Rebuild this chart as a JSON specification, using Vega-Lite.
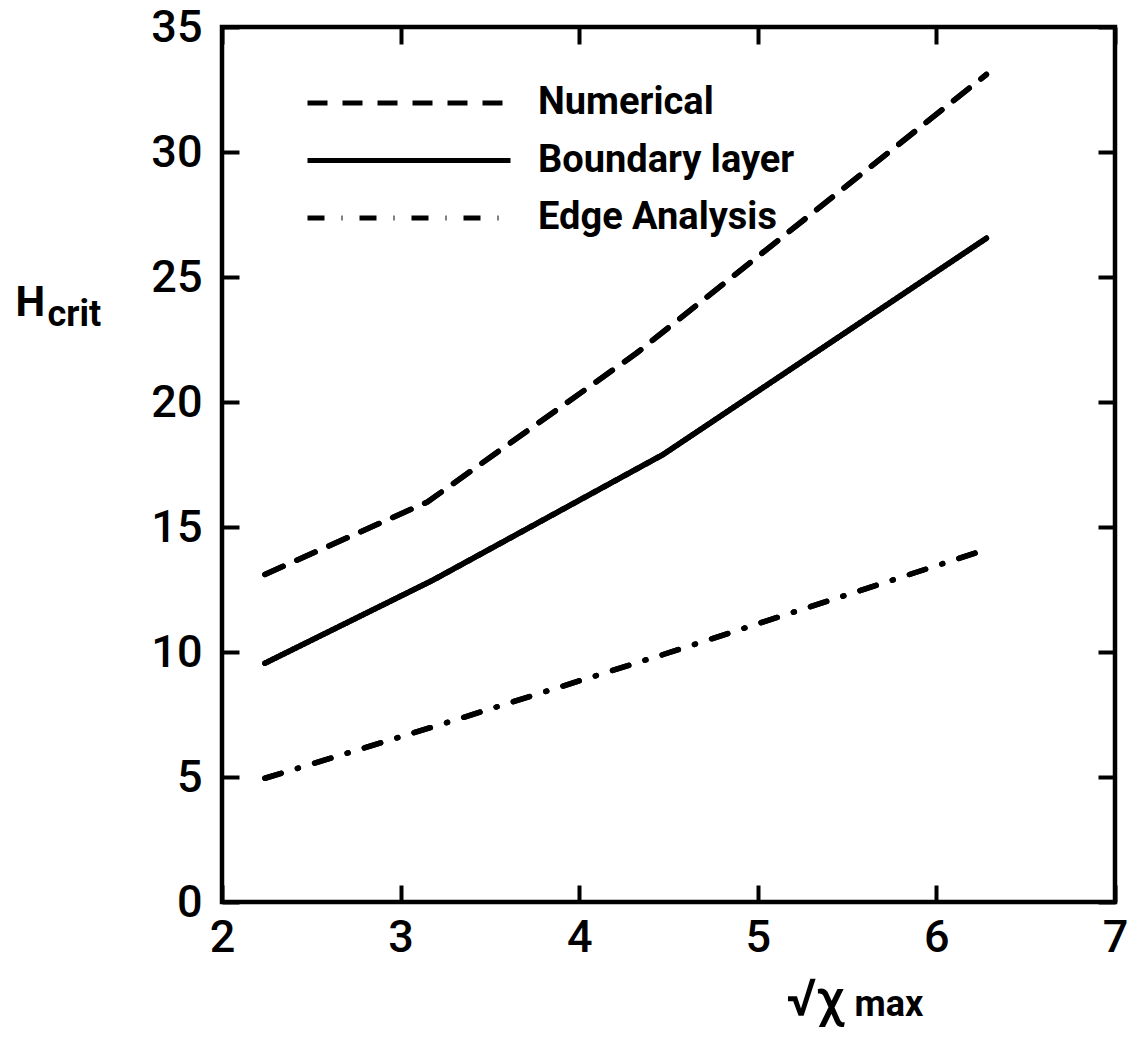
{
  "$schema": "https://vega.github.io/schema/vega-lite/v6.json",
  "width": 893,
  "height": 875,
  "autosize": "none",
  "padding": {"left": 222, "top": 27, "right": 17, "bottom": 138},
  "background": "white",
  "data": {
    "values": [
      {"series": "Numerical", "x": 2.24, "y": 13.1},
      {"series": "Numerical", "x": 3.15, "y": 16.0},
      {"series": "Numerical", "x": 4.32, "y": 21.95},
      {"series": "Numerical", "x": 6.28, "y": 33.1},
      {"series": "Boundary layer", "x": 2.24, "y": 9.55},
      {"series": "Boundary layer", "x": 3.18, "y": 12.87},
      {"series": "Boundary layer", "x": 4.47, "y": 17.9},
      {"series": "Boundary layer", "x": 6.28, "y": 26.55},
      {"series": "Edge Analysis", "x": 2.24, "y": 4.95},
      {"series": "Edge Analysis", "x": 3.18, "y": 7.0},
      {"series": "Edge Analysis", "x": 4.47, "y": 9.9},
      {"series": "Edge Analysis", "x": 6.28, "y": 14.1}
    ]
  },
  "layer": [
    {
      "mark": {"type": "line", "strokeWidth": 5.5, "strokeCap": "round", "strokeJoin": "round", "color": "black"},
      "encoding": {
        "x": {
          "field": "x", "type": "quantitative",
          "scale": {"domain": [2, 7], "nice": false, "zero": false},
          "axis": {
            "orient": "bottom", "values": [2, 3, 4, 5, 6, 7],
            "labelPadding": 30,
            "title": "√χ",
            "titleX": 564, "titleY": 113,
            "titleAngle": 0, "titleAlign": "left", "titleBaseline": "alphabetic",
            "titleFont": "Roboto", "titleFontSize": 52, "titleFontWeight": 500
          }
        },
        "y": {
          "field": "y", "type": "quantitative",
          "scale": {"domain": [0, 35], "nice": false},
          "axis": {
            "orient": "left", "values": [0, 5, 10, 15, 20, 25, 30, 35],
            "labelPadding": 37,
            "title": "H",
            "titleX": -207, "titleY": 288,
            "titleAngle": 0, "titleAlign": "left", "titleBaseline": "alphabetic",
            "titleFont": "Roboto", "titleFontSize": 42, "titleFontWeight": "bold"
          }
        },
        "strokeDash": {
          "field": "series", "type": "nominal",
          "scale": {"domain": ["Numerical", "Boundary layer", "Edge Analysis"], "range": [[20, 15], [1, 0], [17, 17, 1, 17]]},
          "legend": {
            "orient": "none", "legendX": 83, "legendY": 53.5,
            "title": null,
            "symbolType": "stroke", "symbolSize": 41209, "symbolStrokeWidth": 5, "symbolStrokeColor": "black",
            "clipHeight": 45,
            "labelFont": "Roboto", "labelFontSize": 38, "labelFontWeight": "bold", "labelColor": "black",
            "labelOffset": 25, "labelLimit": 500, "rowPadding": 12.5, "padding": 0
          }
        }
      }
    },
    {
      "mark": {"type": "line", "strokeWidth": 5.5, "strokeCap": "round", "strokeJoin": "round", "color": "black"},
      "encoding": {
        "x": {
          "field": "x", "type": "quantitative",
          "axis": {
            "orient": "top", "values": [2, 3, 4, 5, 6, 7], "labels": false,
            "title": "max",
            "titleX": 632, "titleY": 988,
            "titleAngle": 0, "titleAlign": "left", "titleBaseline": "alphabetic",
            "titleFont": "Roboto", "titleFontSize": 36, "titleFontWeight": "bold"
          }
        },
        "y": {
          "field": "y", "type": "quantitative",
          "axis": {
            "orient": "right", "values": [0, 5, 10, 15, 20, 25, 30, 35], "labels": false,
            "title": "crit",
            "titleX": -1068, "titleY": 298,
            "titleAngle": 0, "titleAlign": "left", "titleBaseline": "alphabetic",
            "titleFont": "Roboto", "titleFontSize": 36, "titleFontWeight": "bold"
          }
        },
        "strokeDash": {"field": "series", "type": "nominal", "legend": null}
      }
    }
  ],
  "resolve": {"axis": {"x": "independent", "y": "independent"}},
  "config": {
    "view": {"stroke": "black", "strokeWidth": 4.5},
    "axis": {
      "domain": false, "grid": false,
      "tickColor": "black", "tickWidth": 4, "tickSize": -17,
      "labelFont": "Roboto", "labelFontSize": 45, "labelFontWeight": 500, "labelColor": "black",
      "labelFlush": false, "labelOverlap": false,
      "titleColor": "black"
    }
  }
}
